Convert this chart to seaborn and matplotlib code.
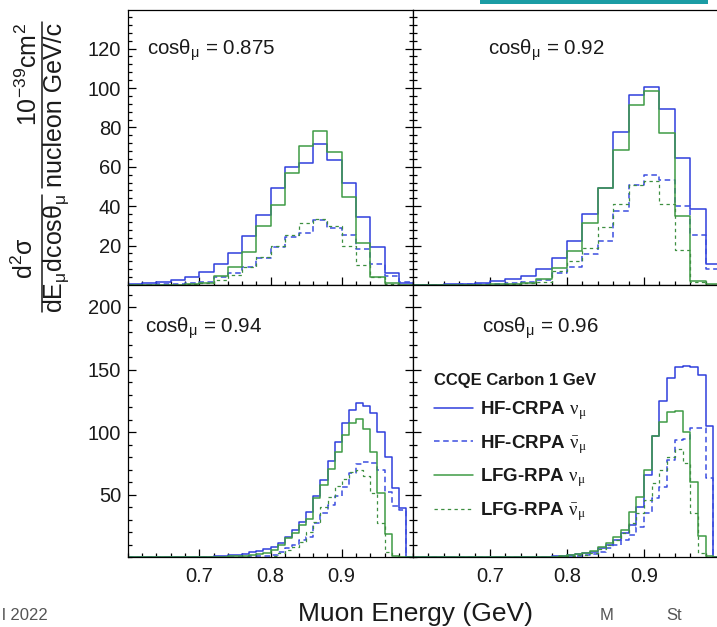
import numpy as np
import pandas as pd
import matplotlib
matplotlib.use("Agg")
import matplotlib.pyplot as plt
import seaborn as sns
from matplotlib.ticker import MultipleLocator, FixedLocator
from matplotlib.lines import Line2D
from matplotlib.patches import Rectangle

# ---------------- data ----------------
e_range = (0.6, 1.0)
nbins_top = 20      # 0.02 GeV bins
nbins_bottom = 40   # 0.01 GeV bins

panel_titles = ["0.875", "0.92", "0.94", "0.96"]
legend_title = "CCQE Carbon 1 GeV"
legend_labels = [r"HF-CRPA $\mathsf{\nu_{\mu}}$", r"HF-CRPA $\mathsf{\bar{\nu}_{\mu}}$",
                 r"LFG-RPA $\mathsf{\nu_{\mu}}$", r"LFG-RPA $\mathsf{\bar{\nu}_{\mu}}$"]

# cos(theta_mu) = 0.875
tl_hf_nu = [0.3, 0.8, 1.5, 2.5, 4.2, 6.8, 10.7, 16.1, 24.9, 35.7, 49.2, 60.1, 61.8, 71.4, 63.5, 51.9, 34.7, 19.1, 6.3, 1.2]
tl_hf_nub = [0.1, 0.2, 0.4, 0.6, 1.0, 1.7, 4.2, 6.3, 9.3, 13.5, 19.5, 24.5, 26.2, 33.0, 29.1, 25.2, 18.1, 10.7, 4.7, 1.4]
tl_lfg_nu = [0, 0, 0, 0.1, 0.3, 0.8, 4.6, 9.0, 16.9, 29.9, 40.6, 56.7, 70.6, 78.2, 67.3, 44.8, 21.5, 4.2, 0.8, 0]
tl_lfg_nub = [0, 0, 0, 0.1, 0.3, 0.8, 2.4, 5.1, 9.3, 14.0, 19.8, 25.4, 31.3, 33.3, 29.9, 19.8, 10.2, 4.2, 0.5, 0]

# cos(theta_mu) = 0.92
tr_hf_nu = [0.1, 0.2, 0.4, 0.7, 1.2, 2.0, 2.9, 4.6, 8.1, 13.5, 22.5, 35.9, 49.1, 77.8, 96.4, 100.3, 89.3, 64.6, 38.4, 10.7]
tr_hf_nub = [0, 0.1, 0.2, 0.3, 0.4, 0.6, 0.9, 1.5, 2.5, 5.9, 9.3, 15.8, 22.4, 37.4, 50.8, 55.8, 53.3, 40.3, 25.4, 8.1]
tr_lfg_nu = [0, 0, 0, 0, 0.1, 0.3, 0.6, 1.0, 2.9, 8.5, 17.4, 31.6, 49.1, 68.5, 91.4, 98.6, 77.3, 35.0, 2.0, 0.5]
tr_lfg_nub = [0, 0, 0, 0, 0.1, 0.2, 0.4, 0.8, 1.7, 7.0, 12.0, 19.0, 29.6, 41.3, 50.6, 52.6, 41.3, 17.6, 1.4, 0]

# cos(theta_mu) = 0.94
bl_hf_nu = [0, 0, 0, 0, 0, 0, 0, 0, 0, 0.1, 0.2,
            0.3, 0.5, 0.9, 1.4, 2.0, 2.8, 3.8, 5.0, 6.5,
            8.3, 11.5, 16.3, 21.6, 28.3, 36.3, 48.8, 61.6, 77.1, 92.3,
            107.0, 117.6, 123.5, 120.8, 115.0, 100.3, 79.7, 55.0, 38.9, 0]
bl_hf_nub = [0, 0, 0, 0, 0, 0, 0, 0, 0, 0, 0,
             0, 0.1, 0.1, 0.2, 0.3, 0.4, 0.5, 0.7, 1.0,
             1.6, 4.3, 6.9, 9.6, 13.6, 16.3, 27.0, 35.5, 41.6, 48.8,
             56.3, 67.5, 74.4, 76.3, 75.0, 70.0, 52.0, 41.0, 37.6, 0]
bl_lfg_nu = [0, 0, 0, 0, 0, 0, 0, 0, 0, 0, 0,
             0.1, 0.2, 0.3, 0.5, 0.8, 1.2, 1.8, 2.5, 3.5,
             5.6, 9.6, 15.2, 18.9, 25.6, 30.1, 46.9, 57.6, 70.1, 84.3,
             97.6, 106.9, 110.1, 102.1, 84.3, 51.5, 18.4, 0.8, 0, 0]
bl_lfg_nub = [0, 0, 0, 0, 0, 0, 0, 0, 0, 0, 0,
              0, 0, 0.1, 0.1, 0.1, 0.2, 0.2, 0.3, 0.4,
              0.8, 3.5, 5.3, 8.3, 12.3, 20.3, 28.3, 40.3, 47.7, 56.8,
              62.1, 68.3, 69.6, 64.8, 50.9, 26.9, 4.3, 0.3, 0, 0]

# cos(theta_mu) = 0.96
br_hf_nu = [0, 0, 0, 0, 0, 0, 0, 0, 0, 0, 0, 0, 0, 0, 0, 0,
            0.2, 0.4, 0.6, 1.0, 1.5, 2.2, 3.2,
            4.3, 7.0, 9.6, 13.6, 18.9, 25.6, 40.3, 65.6, 97.0,
            125.0, 143.0, 152.0, 153.0, 152.0, 146.0, 105.0, 0]
br_hf_nub = [0, 0, 0, 0, 0, 0, 0, 0, 0, 0, 0, 0, 0, 0, 0, 0, 0,
             0.1, 0.2, 0.4, 0.6, 1.0, 1.6,
             2.4, 4.3, 6.9, 9.6, 13.6, 17.6, 24.3, 34.9, 46.9,
             56.3, 77.6, 93.9, 94.5, 103.0, 103.0, 63.0, 0]
br_lfg_nu = [0, 0, 0, 0, 0, 0, 0, 0, 0, 0, 0, 0, 0, 0, 0, 0, 0,
             0.2, 0.4, 0.8, 1.4, 2.2, 3.4,
             5.0, 8.0, 11.0, 16.0, 22.0, 36.0, 48.0, 70.0, 97.0,
             108.0, 116.0, 117.0, 100.0, 60.0, 17.0, 0.5, 0]
br_lfg_nub = [0, 0, 0, 0, 0, 0, 0, 0, 0, 0, 0, 0, 0, 0, 0, 0,
              0.1, 0.2, 0.4, 0.6, 1.0, 1.4,
              2.0, 3.5, 6.1, 9.6, 13.6, 18.9, 26.9, 34.9, 45.6, 58.9,
              69.6, 80.3, 86.1, 75.0, 34.9, 3.2, 0, 0]

x_major = [0.7, 0.8, 0.9]
y_major_top = [20, 40, 60, 80, 100, 120]
y_major_bottom = [50, 100, 150, 200]

# ---------------- style ----------------
sns.set_theme(style="white")
plt.rcParams['font.family'] = ['Liberation Sans', 'DejaVu Sans']
plt.rcParams['mathtext.fontset'] = 'custom'
plt.rcParams['mathtext.rm'] = 'Liberation Sans'
plt.rcParams['mathtext.it'] = 'Liberation Sans:italic'
plt.rcParams['mathtext.bf'] = 'Liberation Sans:bold'
plt.rcParams['mathtext.sf'] = 'Liberation Serif'
plt.rcParams['mathtext.default'] = 'rm'
plt.rcParams['lines.scale_dashes'] = False

TXT = '#1a1a1a'
BLUE = '#2f3fdc'
BLUE_D = '#3c4ee0'
GREEN = '#3f9b45'
GREEN_D = '#3d8f40'

styles = [
    dict(color=BLUE, linestyle='-', linewidth=1.1),
    dict(color=BLUE_D, linestyle=(0, (4.0, 2.6)), linewidth=1.1),
    dict(color=GREEN, linestyle='-', linewidth=1.1),
    dict(color=GREEN_D, linestyle=(0, (2.4, 2.4)), linewidth=0.9),
]

W, H = 717, 627
fig = plt.figure(figsize=(W / 100, H / 100), dpi=100)
fig.patch.set_facecolor('white')


def px(x0, y0, x1, y1):
    return [x0 / W, 1 - y1 / H, (x1 - x0) / W, (y1 - y0) / H]


ax_tl = fig.add_axes(px(128, 10, 413, 285))
ax_tr = fig.add_axes(px(413, 10, 721, 285))
ax_bl = fig.add_axes(px(128, 285, 413, 557))
ax_br = fig.add_axes(px(413, 285, 721, 557))

panels = [
    (ax_tl, nbins_top, [tl_hf_nu, tl_hf_nub, tl_lfg_nu, tl_lfg_nub], 139.6),
    (ax_tr, nbins_top, [tr_hf_nu, tr_hf_nub, tr_lfg_nu, tr_lfg_nub], 139.6),
    (ax_bl, nbins_bottom, [bl_hf_nu, bl_hf_nub, bl_lfg_nu, bl_lfg_nub], 217.6),
    (ax_br, nbins_bottom, [br_hf_nu, br_hf_nub, br_lfg_nu, br_lfg_nub], 217.6),
]

legend_handles = []
for i, (ax, nb, series, ytop) in enumerate(panels):
    edges = np.linspace(e_range[0], e_range[1], nb + 1)
    centers = 0.5 * (edges[:-1] + edges[1:])
    for j, vals in enumerate(series):
        df = pd.DataFrame({"energy": centers, "xsec": vals})
        sns.histplot(data=df, x="energy", weights="xsec", bins=nb, binrange=e_range,
                     element="step", fill=False, ax=ax, **styles[j])
        if ax is ax_br:
            legend_handles.append(ax.lines[-1])
    ax.set_xlabel('')
    ax.set_ylabel('')
    ax.set_xlim(*e_range)
    ax.set_ylim(0, ytop)
    ax.set_facecolor('white')
    for s in ax.spines.values():
        s.set_color('black')
        s.set_linewidth(0.9)
    ax.xaxis.set_major_locator(FixedLocator(x_major))
    ax.xaxis.set_minor_locator(MultipleLocator(0.02))
    if i < 2:
        ax.yaxis.set_major_locator(FixedLocator(y_major_top))
        ax.yaxis.set_minor_locator(MultipleLocator(4))
    else:
        ax.yaxis.set_major_locator(FixedLocator(y_major_bottom))
        ax.yaxis.set_minor_locator(MultipleLocator(10))
    left_col = i in (0, 2)
    bottom_row = i >= 2
    ax.tick_params(axis='both', which='both', direction='in', color='black',
                   labelcolor=TXT, labelsize=14.5, width=0.9,
                   top=False, bottom=True, left=True, right=left_col,
                   labelleft=left_col, labelbottom=bottom_row)
    ax.tick_params(axis='both', which='major', length=5.5)
    ax.tick_params(axis='both', which='minor', length=2.8)
    ax.tick_params(axis='y', pad=5)
    ax.tick_params(axis='x', pad=7)
    ax.grid(False)

# panel labels
label_pos = [(147, 55), (488, 55), (145, 333), (482, 333)]
for (x, y), t in zip(label_pos, panel_titles):
    fig.text(x / W, 1 - y / H, r"cosθ$_{\mu}$ = " + t, ha='left', va='baseline',
             fontsize=14.8, color=TXT)

# legend
leg = ax_br.legend(handles=legend_handles, labels=legend_labels, loc='upper left',
                   bbox_to_anchor=(434 / W, 1 - 373 / H), bbox_transform=fig.transFigure,
                   frameon=False, title=legend_title,
                   title_fontproperties={'weight': 'bold', 'size': 12},
                   prop={'weight': 'bold', 'size': 13.5}, alignment='left',
                   handlelength=2.1, handletextpad=0.35, labelspacing=0.58,
                   borderpad=0, borderaxespad=0)
for t in leg.get_texts():
    t.set_color(TXT)
leg.get_title().set_color(TXT)

# y axis label (two stacked fractions, rotated)
fs_lab = 18
fig.text(29 / W, 1 - 23 / H, r"10$^{-39}$cm$^{2}$", rotation=90, ha='center', va='top',
         fontsize=fs_lab, color=TXT)
fig.add_artist(Line2D([41.7 / W, 41.7 / W], [1 - 22 / H, 1 - 188 / H], color=TXT,
                      lw=1.1, transform=fig.transFigure))
fig.text(55 / W, 1 - 105 / H, "nucleon GeV/c", rotation=90, ha='center', va='center',
         fontsize=fs_lab, color=TXT)
fig.text(25 / W, 1 - 258 / H, r"d$^{2}$σ", rotation=90, ha='center', va='center',
         fontsize=fs_lab, color=TXT)
fig.add_artist(Line2D([41.7 / W, 41.7 / W], [1 - 195 / H, 1 - 312 / H], color=TXT,
                      lw=1.1, transform=fig.transFigure))
fig.text(56 / W, 1 - 253 / H, r"dE$_{\mu}$dcosθ$_{\mu}$", rotation=90, ha='center',
         va='center', fontsize=fs_lab, color=TXT)

# x axis label
fig.text(415 / W, 1 - 621 / H, "Muon Energy (GeV)", ha='center', va='baseline',
         fontsize=19, color=TXT)

# slide footer fragments at the bottom edge
fig.text(2 / W, 1 - 620 / H, "l 2022", ha='left', va='baseline', fontsize=12, color='#555555')
fig.text(600 / W, 1 - 620 / H, "M", ha='left', va='baseline', fontsize=12, color='#555555')
fig.text(666 / W, 1 - 620 / H, "St", ha='left', va='baseline', fontsize=12, color='#555555')

# teal slide bar at the top right
fig.add_artist(Rectangle((480 / W, 1 - 3.5 / H), 228 / W, 4 / H, color='#1a9ca4',
                         transform=fig.transFigure, lw=0))

fig.savefig("out.png", dpi=100)
